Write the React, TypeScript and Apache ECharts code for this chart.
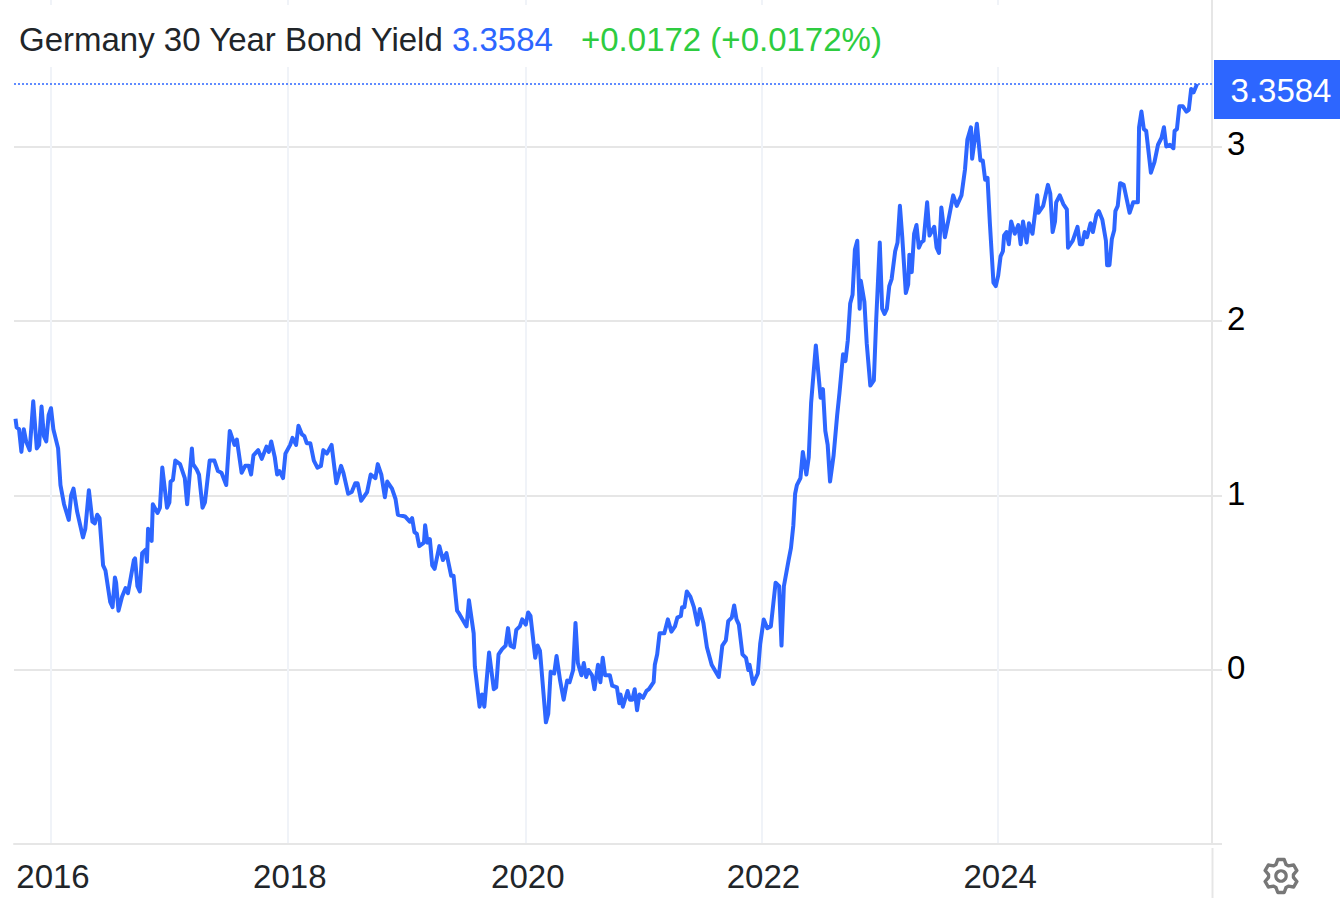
import React, { useEffect, useRef } from "react";
import * as echarts from "echarts";

const years = [
  2015.70,2015.71,2015.73,2015.75,2015.77,2015.79,2015.82,2015.85,2015.88,2015.90,
  2015.92,2015.94,2015.96,2015.98,2016.00,2016.02,2016.06,2016.08,2016.11,2016.15,
  2016.17,2016.19,2016.22,2016.27,2016.29,2016.32,2016.35,2016.37,2016.39,2016.41,
  2016.44,2016.46,2016.50,2016.52,2016.54,2016.55,2016.57,2016.60,2016.63,2016.65,
  2016.70,2016.71,2016.73,2016.75,2016.77,2016.80,2016.81,2016.82,2016.85,2016.86,
  2016.90,2016.92,2016.94,2016.98,2017.00,2017.01,2017.03,2017.05,2017.09,2017.13,
  2017.15,2017.19,2017.20,2017.23,2017.25,2017.28,2017.30,2017.34,2017.38,2017.41,
  2017.44,2017.48,2017.51,2017.55,2017.57,2017.61,2017.64,2017.67,2017.69,2017.71,
  2017.75,2017.78,2017.82,2017.84,2017.86,2017.89,2017.91,2017.93,2017.96,2017.98,
  2018.02,2018.04,2018.07,2018.09,2018.12,2018.14,2018.16,2018.19,2018.22,2018.25,
  2018.28,2018.30,2018.33,2018.37,2018.41,2018.45,2018.47,2018.51,2018.54,2018.57,
  2018.59,2018.62,2018.67,2018.70,2018.74,2018.76,2018.79,2018.82,2018.84,2018.88,
  2018.91,2018.93,2018.99,2019.03,2019.05,2019.07,2019.09,2019.11,2019.15,2019.16,
  2019.18,2019.20,2019.22,2019.24,2019.28,2019.31,2019.34,2019.38,2019.40,2019.43,
  2019.45,2019.51,2019.53,2019.57,2019.58,2019.62,2019.64,2019.66,2019.70,2019.74,
  2019.76,2019.78,2019.81,2019.84,2019.86,2019.88,2019.91,2019.93,2019.96,2019.98,
  2020.01,2020.03,2020.05,2020.09,2020.11,2020.13,2020.18,2020.20,2020.22,2020.25,
  2020.27,2020.30,2020.33,2020.36,2020.38,2020.41,2020.43,2020.45,2020.48,2020.50,
  2020.52,2020.54,2020.57,2020.59,2020.62,2020.64,2020.66,2020.68,2020.72,2020.74,
  2020.78,2020.80,2020.81,2020.83,2020.87,2020.89,2020.91,2020.93,2020.95,2020.97,
  2021.00,2021.03,2021.05,2021.09,2021.10,2021.12,2021.14,2021.18,2021.21,2021.24,
  2021.27,2021.29,2021.32,2021.33,2021.35,2021.37,2021.40,2021.43,2021.46,2021.48,
  2021.51,2021.54,2021.58,2021.64,2021.67,2021.70,2021.72,2021.75,2021.77,2021.79,
  2021.81,2021.84,2021.87,2021.89,2021.90,2021.93,2021.97,2021.99,2022.02,2022.05,
  2022.08,2022.12,2022.15,2022.17,2022.19,2022.23,2022.25,2022.27,2022.285,2022.30,
  2022.33,2022.35,2022.38,2022.40,2022.42,2022.46,2022.50,2022.52,2022.54,2022.56,
  2022.58,2022.61,2022.64,2022.66,2022.69,2022.71,2022.73,2022.75,2022.77,2022.79,
  2022.81,2022.83,2022.84,2022.87,2022.89,2022.92,2022.95,2022.97,2023.00,2023.02,
  2023.04,2023.06,2023.08,2023.10,2023.13,2023.15,2023.17,2023.19,2023.22,2023.24,
  2023.25,2023.27,2023.29,2023.31,2023.33,2023.35,2023.37,2023.40,2023.42,2023.46,
  2023.48,2023.50,2023.52,2023.55,2023.58,2023.62,2023.65,2023.69,2023.72,2023.74,
  2023.77,2023.78,2023.82,2023.85,2023.87,2023.89,2023.91,2023.93,2023.96,2023.98,
  2024.00,2024.02,2024.04,2024.05,2024.07,2024.09,2024.11,2024.14,2024.17,2024.19,
  2024.21,2024.24,2024.26,2024.29,2024.33,2024.34,2024.38,2024.42,2024.44,2024.46,
  2024.48,2024.49,2024.52,2024.55,2024.58,2024.59,2024.63,2024.67,2024.69,2024.71,
  2024.73,2024.75,2024.78,2024.80,2024.83,2024.85,2024.88,2024.91,2024.92,2024.94,
  2024.96,2024.98,2024.99,2025.01,2025.03,2025.06,2025.11,2025.14,2025.18,2025.19,
  2025.21,2025.23,2025.25,2025.29,2025.32,2025.35,2025.38,2025.40,2025.42,2025.45,
  2025.48,2025.49,2025.51,2025.53,2025.56,2025.59,2025.61,2025.63,2025.65,2025.68,
];

const yields = [
  1.44,1.39,1.38,1.25,1.38,1.31,1.26,1.54,1.27,1.29,
  1.51,1.34,1.31,1.46,1.50,1.38,1.27,1.06,0.95,0.86,
  1.00,1.04,0.91,0.76,0.81,1.03,0.85,0.84,0.89,0.87,
  0.60,0.57,0.39,0.36,0.53,0.50,0.34,0.42,0.47,0.44,
  0.63,0.64,0.48,0.45,0.67,0.69,0.62,0.81,0.74,0.95,
  0.90,0.93,1.16,0.93,0.96,1.08,1.09,1.20,1.18,1.10,
  0.95,1.27,1.18,1.15,1.12,0.93,0.96,1.20,1.20,1.14,
  1.13,1.06,1.37,1.29,1.32,1.13,1.17,1.17,1.12,1.23,
  1.26,1.21,1.28,1.25,1.31,1.22,1.12,1.14,1.10,1.24,
  1.29,1.33,1.29,1.40,1.35,1.34,1.30,1.30,1.20,1.16,
  1.17,1.26,1.24,1.29,1.07,1.17,1.13,1.01,1.02,1.07,
  1.07,0.97,1.02,1.12,1.10,1.18,1.12,0.99,1.08,1.04,
  0.98,0.89,0.88,0.85,0.87,0.79,0.78,0.71,0.73,0.83,
  0.73,0.75,0.60,0.58,0.71,0.63,0.67,0.54,0.54,0.34,
  0.32,0.25,0.40,0.21,0.02,-0.21,-0.14,-0.21,0.10,-0.11,
  -0.10,0.09,0.12,0.14,0.24,0.14,0.13,0.23,0.25,0.29,
  0.26,0.33,0.31,0.07,0.14,0.11,-0.30,-0.25,-0.01,-0.02,
  0.08,-0.06,-0.17,-0.06,-0.07,0.00,0.27,0.04,-0.03,0.04,
  -0.04,0.00,-0.03,-0.11,0.03,-0.07,0.07,-0.03,-0.03,-0.09,
  -0.10,-0.19,-0.14,-0.21,-0.12,-0.17,-0.17,-0.11,-0.23,-0.14,
  -0.16,-0.12,-0.11,-0.07,0.03,0.09,0.21,0.21,0.29,0.22,
  0.25,0.30,0.31,0.36,0.36,0.45,0.42,0.36,0.26,0.35,
  0.27,0.13,0.03,-0.04,0.14,0.17,0.28,0.30,0.37,0.29,
  0.26,0.09,0.07,0.00,0.03,-0.08,-0.02,0.15,0.29,0.24,
  0.25,0.50,0.48,0.14,0.48,0.63,0.70,0.83,1.01,1.06,
  1.10,1.25,1.12,1.22,1.53,1.86,1.56,1.61,1.37,1.29,
  1.08,1.23,1.46,1.59,1.81,1.77,1.89,2.10,2.15,2.41,
  2.46,2.07,2.23,2.11,1.87,1.63,1.66,2.01,2.45,2.07,
  2.04,2.07,2.20,2.24,2.40,2.45,2.66,2.48,2.16,2.21,
  2.38,2.28,2.50,2.55,2.42,2.45,2.46,2.68,2.49,2.54,
  2.42,2.39,2.65,2.48,2.58,2.72,2.66,2.72,2.87,3.04,
  3.11,2.93,3.13,2.92,2.92,2.81,2.82,2.56,2.22,2.20,
  2.26,2.37,2.40,2.49,2.51,2.44,2.57,2.50,2.55,2.44,
  2.57,2.45,2.56,2.50,2.72,2.62,2.66,2.78,2.73,2.51,
  2.57,2.68,2.72,2.67,2.64,2.42,2.46,2.54,2.44,2.44,
  2.51,2.48,2.56,2.51,2.61,2.63,2.58,2.46,2.32,2.32,
  2.47,2.52,2.63,2.66,2.79,2.78,2.62,2.68,2.68,3.11,
  3.20,3.10,3.09,2.85,2.91,3.01,3.05,3.11,3.00,3.01,
  2.99,3.09,3.10,3.23,3.23,3.20,3.21,3.33,3.31,3.3584,
];

const xTicks = [2016, 2018, 2020.01, 2022, 2024];
const yLabels = [0, 1, 2, 3];
const titleText = "Germany 30 Year Bond Yield";
const lastValue = 3.3584;
const changeText = "+0.0172 (+0.0172%)";

const FONT = "'Liberation Sans', Arial, sans-serif";
const BLUE = "#2d66ff";
const LINE = "#e6e6e6";
const X_MIN = 2015.6875;
const X_MAX = 2025.806;
const Y_MIN = -0.997;
const Y_MAX = 3.8395;

function gearPoints(cx: number, cy: number) {
  const pts: number[][] = [];
  const add = (deg: number, r: number) => {
    const a = (deg * Math.PI) / 180;
    pts.push([cx + r * Math.cos(a), cy + r * Math.sin(a)]);
  };
  for (let i = 0; i < 6; i++) {
    const c = i * 60 - 90;
    add(c - 24, 12.5);
    add(c - 11, 16.8);
    add(c + 11, 16.8);
    add(c + 24, 12.5);
  }
  return pts;
}

export default function App() {
  const ref = useRef<HTMLDivElement>(null);
  useEffect(() => {
    document.body.style.margin = "0";
    const chart = echarts.init(ref.current!, undefined, { renderer: "svg" });
    chart.setOption({
      animation: false,
      backgroundColor: "#ffffff",
      grid: { left: 14, width: 1198, top: 0, height: 844, containLabel: false },
      title: {
        text: titleText,
        left: 19,
        top: 20,
        padding: 0,
        z: 6,
        textStyle: { color: "#212529", fontFamily: FONT, fontSize: 33, fontWeight: "normal", lineHeight: 38 },
      },
      xAxis: {
        type: "value",
        min: X_MIN,
        max: X_MAX,
        axisLine: { show: true, onZero: false, lineStyle: { color: LINE, width: 2 } },
        axisTick: { show: false, customValues: xTicks },
        splitLine: { show: true, lineStyle: { color: "#f0f3f8", width: 2 } },
        axisLabel: {
          customValues: xTicks,
          formatter: (v: number) => String(Math.floor(v)),
          color: "#212529",
          fontFamily: FONT,
          fontSize: 33,
          margin: 16,
          padding: [0, 0, 0, 4],
          hideOverlap: false,
        },
      },
      yAxis: {
        type: "value",
        position: "right",
        min: Y_MIN,
        max: Y_MAX,
        axisLine: { show: true, onZero: false, lineStyle: { color: LINE, width: 2 } },
        axisTick: { show: true, inside: false, length: 10, customValues: [Y_MIN, ...yLabels], lineStyle: { color: LINE, width: 2 } },
        splitLine: { show: true, lineStyle: { color: LINE, width: 2 } },
        axisLabel: {
          customValues: yLabels,
          color: "#000000",
          fontFamily: FONT,
          fontSize: 33,
          margin: 15,
          verticalAlign: "bottom",
          lineHeight: 5,
          align: "left",
        },
      },
      series: [
        {
          type: "line",
          data: years.map((y, i) => [y, yields[i]]),
          showSymbol: false,
          symbol: "none",
          smooth: false,
          z: 3,
          lineStyle: { color: BLUE, width: 4, join: "round" },
          markLine: {
            silent: true,
            symbol: "none",
            animation: false,
            label: { show: false },
            lineStyle: { color: BLUE, type: [2, 2], width: 1.5 },
            data: [{ yAxis: lastValue }],
          },
        },
      ],
      graphic: [
        { type: "rect", z: 1, shape: { x: 0, y: 5, width: 1208, height: 62 }, style: { fill: "#ffffff" } },
        { type: "text", z: 7, x: 452, y: 39, style: { text: String(lastValue), fill: BLUE, font: `33px ${FONT}`, textVerticalAlign: "middle" } },
        { type: "text", z: 7, x: 581, y: 39, style: { text: changeText, fill: "#2ecc40", font: `33px ${FONT}`, textVerticalAlign: "middle" } },
        { type: "rect", z: 8, shape: { x: 1214, y: 60, width: 126, height: 59 }, style: { fill: BLUE } },
        { type: "text", z: 9, x: 1281, y: 90, style: { text: String(lastValue), fill: "#ffffff", font: `33px ${FONT}`, textAlign: "center", textVerticalAlign: "middle" } },
        { type: "line", z: 1, shape: { x1: 1212.5, y1: 848, x2: 1212.5, y2: 898 }, style: { stroke: LINE, lineWidth: 2 } },
        { type: "polygon", z: 7, shape: { points: gearPoints(1281, 876) }, style: { fill: "none", stroke: "#777777", lineWidth: 3.4, lineJoin: "round" } },
        { type: "circle", z: 7, shape: { cx: 1281, cy: 876, r: 5.2 }, style: { fill: "none", stroke: "#777777", lineWidth: 3.2 } },
      ],
    });
    return () => chart.dispose();
  }, []);
  return <div ref={ref} style={{ width: 1340, height: 898 }} />;
}
